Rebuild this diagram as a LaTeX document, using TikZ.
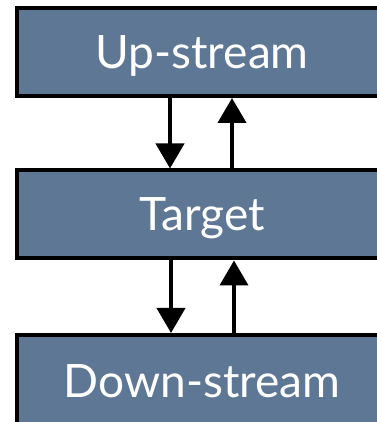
\documentclass[tikz,border=0pt]{standalone}
\usepackage{fontspec}
\setmainfont{Lato}
\usetikzlibrary{arrows.meta}

\definecolor{slate}{HTML}{5E7794}

\begin{document}
\begin{tikzpicture}[
    x=1pt, y=1pt,
    layer/.style={draw=black, line width=4pt, fill=slate, text=white,
        minimum width=370pt, minimum height=88pt,
        font=\fontsize{46}{50}\selectfont, text height=33pt, text depth=0pt},
    flow/.style={line width=4pt, -{Triangle[length=25pt, width=28pt]}},
]
\useasboundingbox (0,0) rectangle (376,422);

% Layers
\node[layer] (up) at (202, 370) {Up-stream};
\node[layer] (target) at (202, 207.5) {Target};
\node[layer, minimum height=92pt] (down) at (202, 41) {Down-stream};

% Upper pair of arrows
\draw[flow] ([xshift=-32pt]up.south) -- ([xshift=-32pt]target.north);
\draw[flow] ([xshift=30pt]target.north) -- ([xshift=30pt]up.south);

% Lower pair of arrows
\draw[flow] ([xshift=-31pt]target.south) -- ([xshift=-31pt]down.north);
\draw[flow] ([xshift=32pt]down.north) -- ([xshift=32pt]target.south);

\end{tikzpicture}
\end{document}
